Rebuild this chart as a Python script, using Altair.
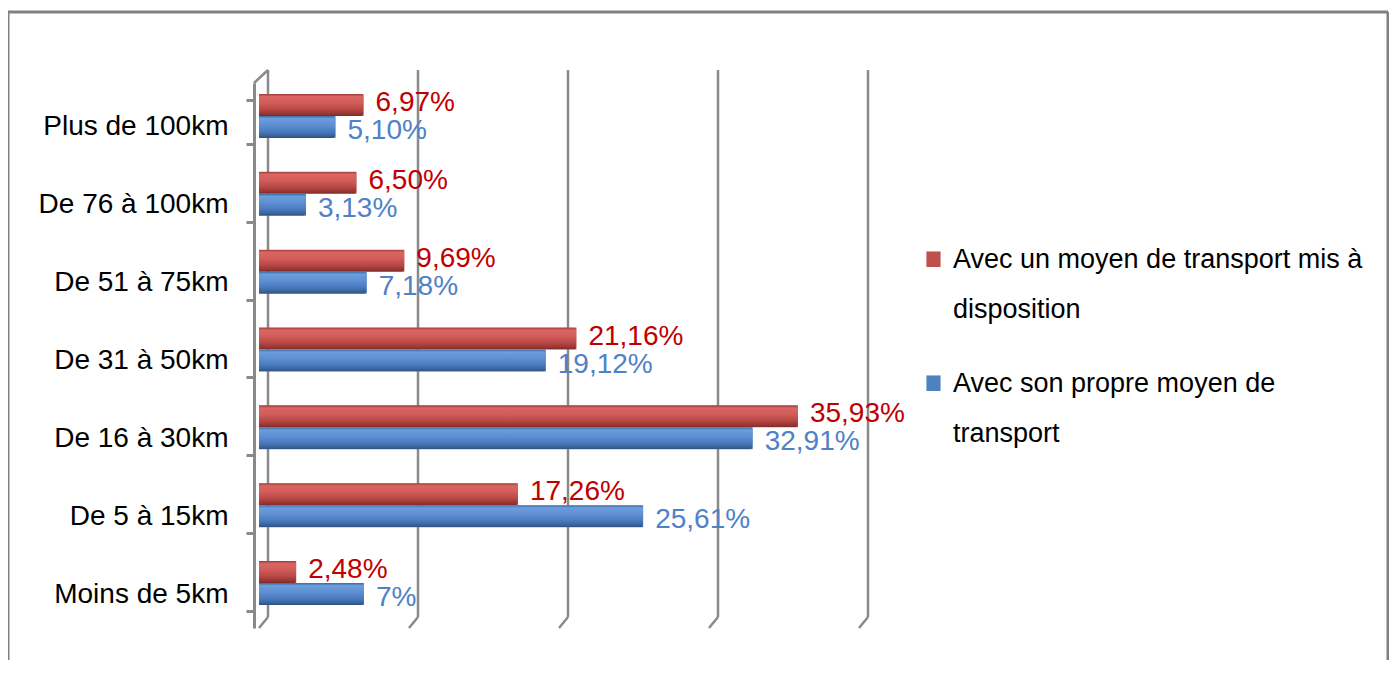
import altair as alt
import pandas as pd

# ---- data ----
categories = ["Plus de 100km", "De 76 à 100km", "De 51 à 75km", "De 31 à 50km",
              "De 16 à 30km", "De 5 à 15km", "Moins de 5km"]
series_names = ["Avec un moyen de transport mis à disposition",
                "Avec son propre moyen de transport"]
legend_lines = [["Avec un moyen de transport mis à", "disposition"],
                ["Avec son propre moyen de", "transport"]]
mis_a_disposition = [6.97, 6.50, 9.69, 21.16, 35.93, 17.26, 2.48]
propre_moyen = [5.10, 3.13, 7.18, 19.12, 32.91, 25.61, 7.00]
grid_values = [0, 10, 20, 30, 40]

FONT = "Liberation Sans, Arial"
RED, BLUE = "#C0504D", "#4F81BD"
RED_TXT, BLUE_TXT = "#C00000", "#4F81C7"
GRAY = "#8A8A8A"


def fmt(v):
    if float(v).is_integer():
        return f"{int(v)}%"
    return f"{v:.2f}".replace(".", ",") + "%"


rows = []
for c, a, b in zip(categories, mis_a_disposition, propre_moyen):
    rows.append({"cat": c, "serie": series_names[0], "val": a, "lab": fmt(a)})
    rows.append({"cat": c, "serie": series_names[1], "val": b, "lab": fmt(b)})
df = pd.DataFrame(rows)
grid_df = pd.DataFrame({"val": grid_values})
one = pd.DataFrame({"d": [0]})

label_expr = " : ".join(
    f"datum.label == '{n}' ? {lines!r}" for n, lines in zip(series_names[:-1], legend_lines[:-1])
) + f" : {legend_lines[-1]!r}"

x_enc = alt.X("val:Q", scale=alt.Scale(domain=[0, 40], nice=False), axis=None)
y_enc = alt.Y(
    "cat:N", sort=categories,
    scale=alt.Scale(paddingInner=0.435, paddingOuter=0.2175),
    axis=alt.Axis(title=None, offset=5, tickBand="extent", domainColor=GRAY,
                  domainWidth=3, tickColor=GRAY, tickWidth=3, tickSize=8,
                  labelFont=FONT, labelFontSize=28, labelColor="black",
                  labelPadding=18, labelLimit=400, labelOffset=5, grid=False),
)
yoff = alt.YOffset("serie:N", sort=series_names, scale=alt.Scale(range=[-6, 38]))

W, H = 600, 545

# back-wall gridlines with 3D floor diagonals
grid = alt.Chart(grid_df).mark_rule(color=GRAY, strokeWidth=2.5, xOffset=9).encode(
    x=x_enc, y=alt.value(-13), y2=alt.value(H - 11))
diag = alt.Chart(grid_df).mark_rule(color=GRAY, strokeWidth=2.5, xOffset=9, x2Offset=0).encode(
    x=x_enc, x2="val:Q", y=alt.value(H - 11), y2=alt.value(H))
top_diag = alt.Chart(one).mark_rule(color=GRAY, strokeWidth=2.5).encode(
    x=alt.value(-5), x2=alt.value(9), y=alt.value(0), y2=alt.value(-13))

# outer frame (three visible sides)
frame_left = alt.Chart(one).mark_rule(color="#808080", strokeWidth=3).encode(
    x=alt.value(-251), y=alt.value(-71), y2=alt.value(H + 32))
frame_top = alt.Chart(one).mark_rule(color="#808080", strokeWidth=3).encode(
    x=alt.value(-251), x2=alt.value(1129), y=alt.value(-71))
frame_right = alt.Chart(one).mark_rule(color="#808080", strokeWidth=3).encode(
    x=alt.value(1129), y=alt.value(-71), y2=alt.value(H + 32))

base_bars = alt.Chart(df).mark_bar().encode(
    x=x_enc, y=y_enc, yOffset=yoff,
    color=alt.Color(
        "serie:N", sort=series_names,
        scale=alt.Scale(domain=series_names, range=[RED, BLUE]),
        legend=alt.Legend(
            title=None, orient="none", legendX=661, legendY=150,
            symbolType="M-1,0.7 H1 V2.9 H-1 Z", symbolSize=200, symbolStrokeWidth=0,
            labelFont=FONT, labelFontSize=27, labelColor="black", labelLimit=700,
            labelBaseline="top", labelOffset=6, rowPadding=34,
            labelExpr=label_expr,
        ),
    ),
)


def grad(stops):
    return alt.LinearGradient(
        gradient="linear", x1=0, x2=0, y1=0, y2=1,
        stops=[alt.GradientStop(offset=o, color=c) for o, c in stops])


red_grad = grad([(0, "#9E3B38"), (0.12, "#DA6663"), (0.4, "#D25C59"),
                 (0.7, "#B84845"), (0.9, "#963634"), (1, "#7A2B29")])
blue_grad = grad([(0, "#3D6AA6"), (0.12, "#6C9DDD"), (0.4, "#5E90D2"),
                  (0.7, "#4A7BBF"), (0.9, "#3A6299"), (1, "#2E4F7E")])

red_bars = alt.Chart(df).transform_filter(
    alt.datum.serie == series_names[0]).mark_bar(
    fill=red_grad, cornerRadiusTopRight=3, cornerRadiusBottomRight=3).encode(
    x=x_enc, y=y_enc, yOffset=yoff)
blue_bars = alt.Chart(df).transform_filter(
    alt.datum.serie == series_names[1]).mark_bar(
    fill=blue_grad, cornerRadiusTopRight=3, cornerRadiusBottomRight=3).encode(
    x=x_enc, y=y_enc, yOffset=yoff)

red_labels = alt.Chart(df).transform_filter(
    alt.datum.serie == series_names[0]).mark_text(
    align="left", baseline="middle", dx=12, dy=-2, font=FONT, fontSize=28,
    color=RED_TXT).encode(x=x_enc, y=y_enc, yOffset=yoff, text="lab:N")
blue_labels = alt.Chart(df).transform_filter(
    alt.datum.serie == series_names[1]).mark_text(
    align="left", baseline="middle", dx=12, dy=4, font=FONT, fontSize=28,
    color=BLUE_TXT).encode(x=x_enc, y=y_enc, yOffset=yoff, text="lab:N")

chart = alt.layer(
    frame_left, frame_top, frame_right, grid, diag, top_diag,
    base_bars, red_bars, blue_bars, red_labels, blue_labels,
).properties(
    width=W, height=H,
    autosize=alt.AutoSizeParams(type="none"),
    padding={"left": 251, "top": 75, "right": 530, "bottom": 32},
).configure(
    view=alt.ViewConfig(stroke=None),
    style={"guide-label": {"lineHeight": 50}},
)

chart.save("out.html", embed_options={"renderer": "svg", "actions": False})
